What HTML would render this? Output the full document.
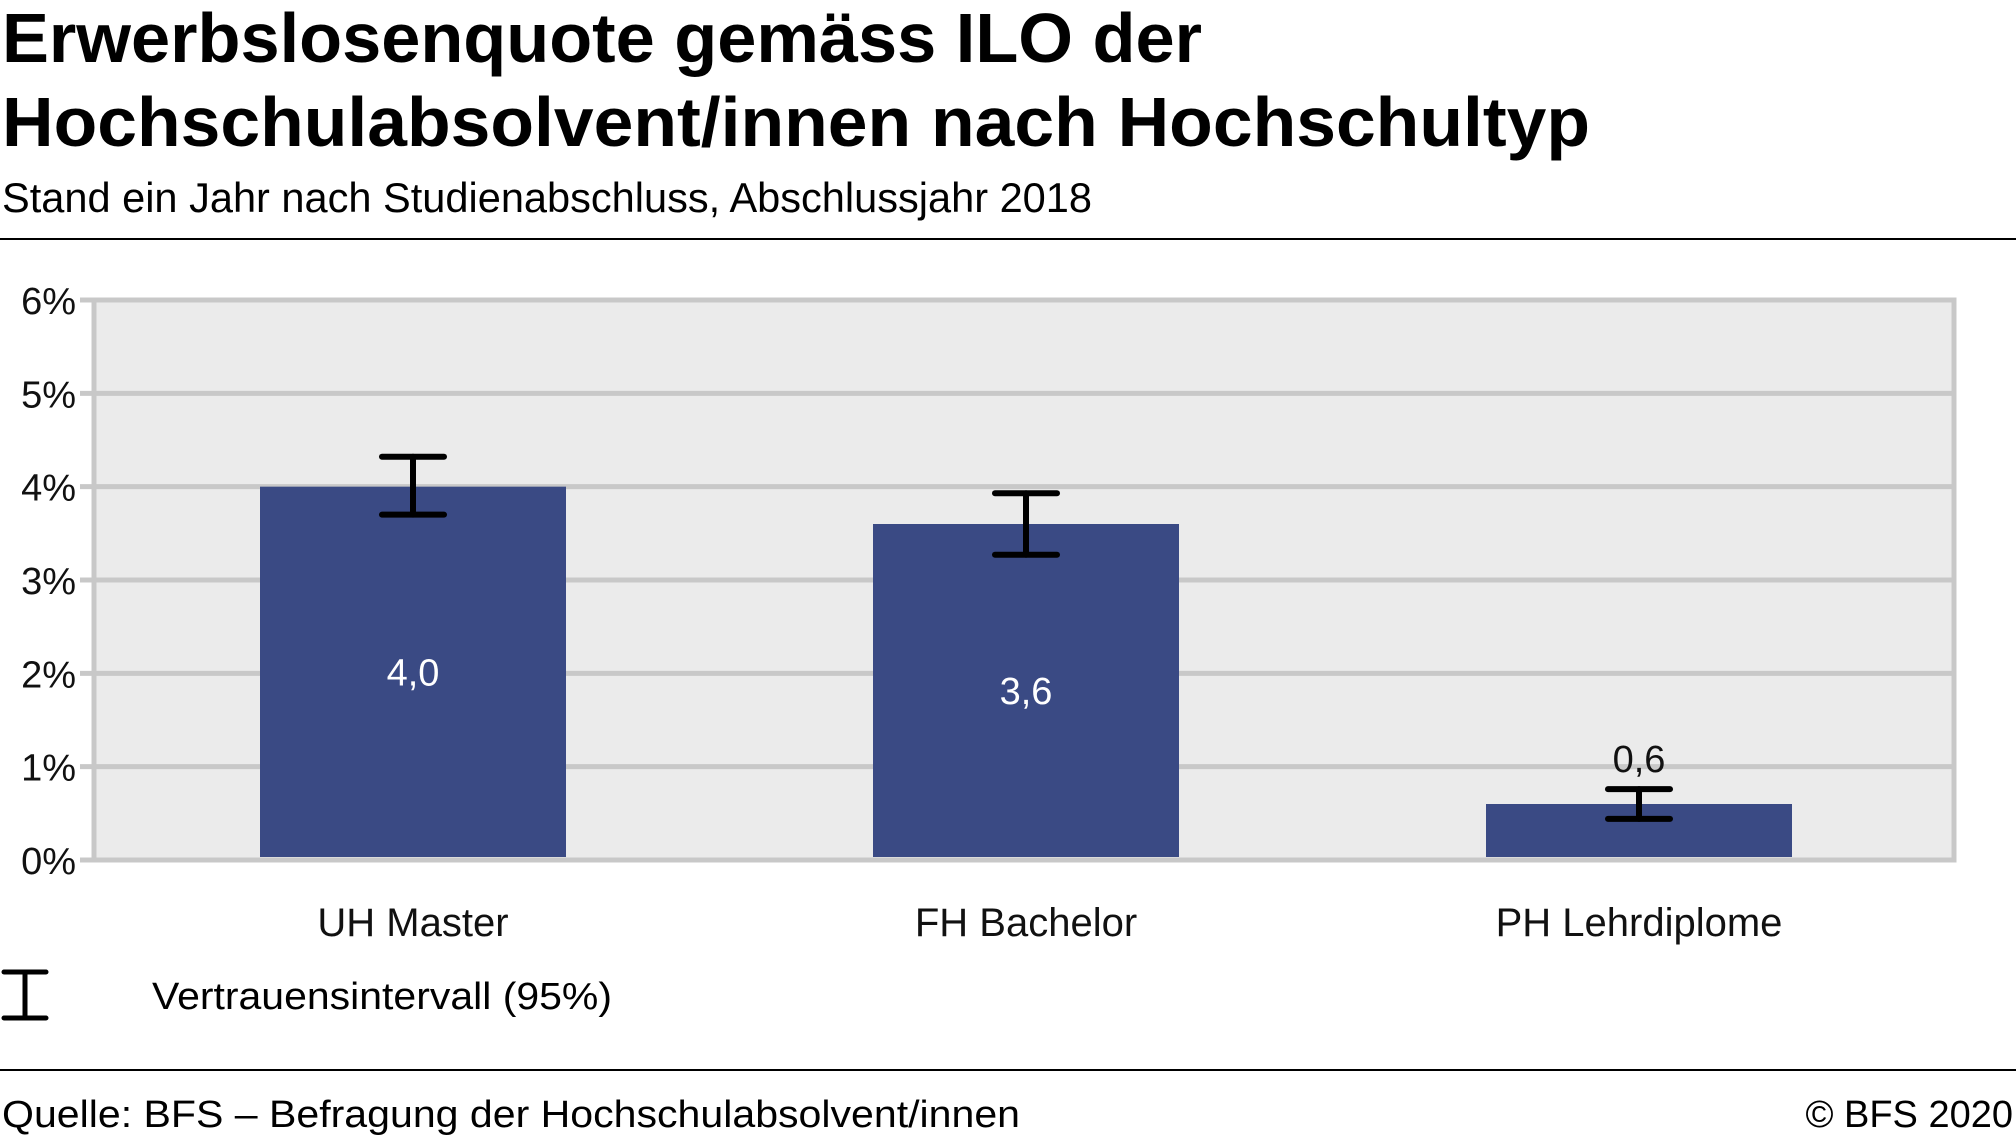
<!DOCTYPE html>
<html><head><meta charset="utf-8"><style>
html,body{margin:0;padding:0;background:#fff;}
svg{display:block;font-family:"Liberation Sans",sans-serif;}
</style></head><body>
<svg id="chart" width="2016" height="1142" viewBox="0 0 2016 1142">
<text x="2" y="62" font-size="70" font-weight="bold" textLength="1200" lengthAdjust="spacingAndGlyphs">Erwerbslosenquote gemäss ILO der</text>
<text x="2" y="146" font-size="70" font-weight="bold" textLength="1588" lengthAdjust="spacingAndGlyphs">Hochschulabsolvent/innen nach Hochschultyp</text>
<text x="2" y="212" font-size="42" textLength="1090" lengthAdjust="spacingAndGlyphs">Stand ein Jahr nach Studienabschluss, Abschlussjahr 2018</text>
<rect x="0" y="238" width="2016" height="2" fill="#000"/>
<g id="plot"></g>
<g>
<g stroke="#000" stroke-width="5" stroke-linecap="round">
<line x1="4" y1="972" x2="46" y2="972"/><line x1="25" y1="972" x2="25" y2="1018"/><line x1="4" y1="1018" x2="46" y2="1018"/>
</g>
<text x="152" y="1009" font-size="38" textLength="460" lengthAdjust="spacingAndGlyphs">Vertrauensintervall (95%)</text>
</g>
<rect x="0" y="1069" width="2016" height="2" fill="#000"/>
<text x="2" y="1127" font-size="38" textLength="1018" lengthAdjust="spacingAndGlyphs">Quelle: BFS – Befragung der Hochschulabsolvent/innen</text>
<text x="2013" y="1127" font-size="38" text-anchor="end">© BFS 2020</text>
</svg>
<script>
const categories = ["UH Master", "FH Bachelor", "PH Lehrdiplome"];
const values = [4.0, 3.6, 0.6];
const ciLow = [3.7, 3.27, 0.44];
const ciHigh = [4.32, 3.93, 0.76];
const valueLabels = ["4,0", "3,6", "0,6"];
const yTicks = [0, 1, 2, 3, 4, 5, 6];
const yTickLabels = ["0%", "1%", "2%", "3%", "4%", "5%", "6%"];

const NS = "http://www.w3.org/2000/svg";
const L = 94, R = 1954, T = 300, B = 860, yMax = 6;
const y = v => B - (v / yMax) * (B - T);
const xc = i => 413 + 613 * i;
const barW = 306;
const g = document.getElementById('plot');
function mk(tag, attrs) { const e = document.createElementNS(NS, tag); for (const k in attrs) e.setAttribute(k, attrs[k]); g.appendChild(e); return e; }

let bg = mk('rect', {x: L, y: T, width: R - L, height: B - T, fill: '#ebebeb'});


yTicks.forEach((t, i) => {
  let gl = mk('line', {x1: 80, x2: R, y1: y(t), y2: y(t), stroke: '#c8c8c8', 'stroke-width': 5});
  
  
  let tl = mk('text', {x: 76, y: y(t) + 14, 'font-size': 38, 'text-anchor': 'end', fill: '#111'});
  tl.textContent = yTickLabels[i];
  
  
});
let fr = mk('rect', {x: L, y: T, width: R - L, height: B - T, fill: 'none', stroke: '#c8c8c8', 'stroke-width': 5});



categories.forEach((c, i) => {
  const cx = xc(i);
  let b = mk('rect', {x: cx - barW / 2, y: y(values[i]), width: barW, height: B - 3 - y(values[i]), fill: '#3a4a84'});
  
  
  const eg = document.createElementNS(NS, 'g');
  eg.setAttribute('stroke', '#000'); eg.setAttribute('stroke-width', 6); eg.setAttribute('stroke-linecap', 'round');
  
  
  [[cx - 31, y(ciHigh[i]), cx + 31, y(ciHigh[i])], [cx, y(ciHigh[i]), cx, y(ciLow[i])], [cx - 31, y(ciLow[i]), cx + 31, y(ciLow[i])]].forEach(p => {
    const l = document.createElementNS(NS, 'line');
    l.setAttribute('x1', p[0]); l.setAttribute('y1', p[1]); l.setAttribute('x2', p[2]); l.setAttribute('y2', p[3]);
    eg.appendChild(l);
  });
  g.appendChild(eg);
  const inside = values[i] > 1.5;
  const ly = inside ? (y(values[i]) + B) / 2 + 12 : y(ciHigh[i]) - 17;
  let vl = mk('text', {x: cx, y: ly, 'font-size': 38, 'text-anchor': 'middle', fill: inside ? '#fff' : '#111'});
  vl.textContent = valueLabels[i];
  
  
  let cl = mk('text', {x: cx, y: 936, 'font-size': 40, 'text-anchor': 'middle', fill: '#111'});
  cl.textContent = c;
  
  
});
</script>
</body></html>
